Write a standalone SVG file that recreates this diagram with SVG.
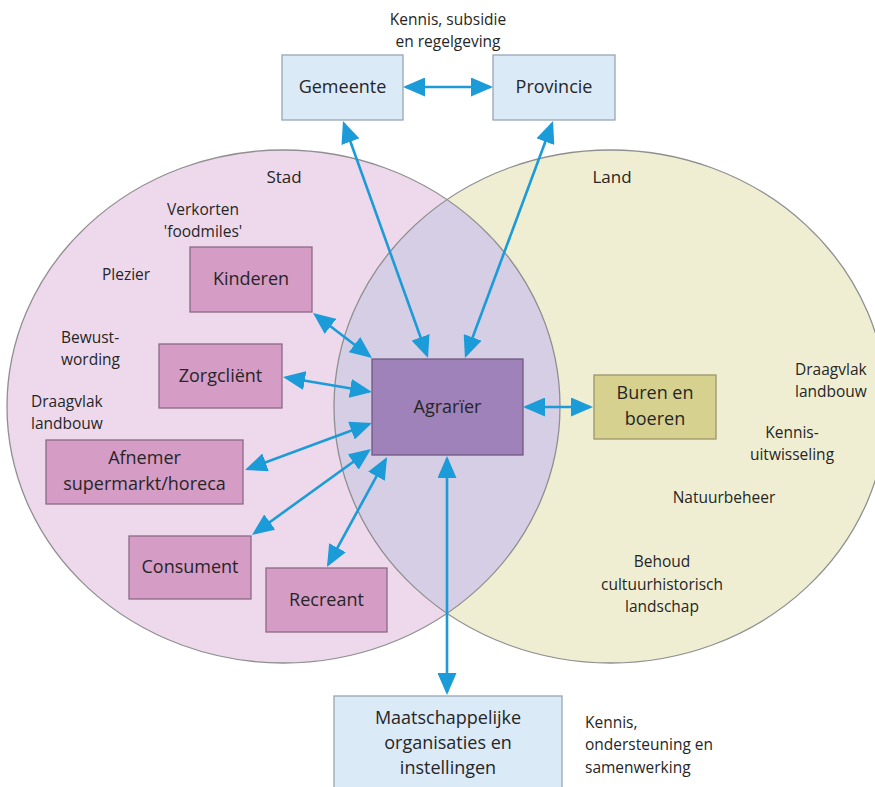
<svg xmlns="http://www.w3.org/2000/svg" width="875" height="787" viewBox="0 0 875 787">
<style>
  text { font-family: "Open Sans", "Noto Sans", "DejaVu Sans", sans-serif; fill: #262626; }
  .ann { font-size: 15.5px; }
  .lbl { font-size: 18px; text-anchor: middle; }
  .c { text-anchor: middle; }
  .title { font-size: 17px; }
  .outline { fill: none; stroke: #8f8f8f; stroke-width: 1.3; }
  .pink { fill: #d59cc6; stroke: #8c6a86; stroke-width: 1.3; }
  .blue { fill: #dbeaf7; stroke: #98a6b4; stroke-width: 1.3; }
  .agr { fill: #9e82b9; stroke: #6e5a82; stroke-width: 1.3; }
  .olive { fill: #d7d190; stroke: #9b9569; stroke-width: 1.3; }
  .conn line { stroke: #1b9bd8; stroke-width: 2.6; marker-start: url(#ah); marker-end: url(#ah); }
</style>
<defs>
  <marker id="ah" markerUnits="userSpaceOnUse" markerWidth="22" markerHeight="19" refX="19" refY="9.5" orient="auto-start-reverse" viewBox="0 0 22 19">
    <path d="M0,0 L22,9.5 L0,19 z" fill="#1b9bd8"/>
  </marker>
  <clipPath id="leftClip">
    <ellipse cx="283.5" cy="406.5" rx="276.5" ry="256.5"/>
  </clipPath>
</defs>
<rect width="875" height="787" fill="#ffffff"/>

<g id="sets">
  <ellipse cx="283.5" cy="406.5" rx="276.5" ry="256.5" fill="#eed9ec"/>
  <ellipse cx="610.5" cy="406.5" rx="276.5" ry="256.5" fill="#f0eed2"/>
  <ellipse cx="610.5" cy="406.5" rx="276.5" ry="256.5" fill="#d6cee5" clip-path="url(#leftClip)"/>
  <ellipse class="outline" cx="283.5" cy="406.5" rx="276.5" ry="256.5"/>
  <ellipse class="outline" cx="610.5" cy="406.5" rx="276.5" ry="256.5"/>
  <text class="title c" x="284" y="183">Stad</text>
  <text class="title c" x="612" y="183">Land</text>
</g>

<g id="annotations" class="ann">
  <text class="c" x="448" y="25">Kennis, subsidie</text>
  <text class="c" x="448" y="47">en regelgeving</text>
  <text class="c" x="203" y="215">Verkorten</text>
  <text class="c" x="203" y="237">'foodmiles'</text>
  <text x="102" y="280">Plezier</text>
  <text x="61" y="343">Bewust-</text>
  <text x="61" y="365">wording</text>
  <text x="31" y="407">Draagvlak</text>
  <text x="31" y="429">landbouw</text>
  <text x="795" y="375">Draagvlak</text>
  <text x="795" y="397">landbouw</text>
  <text class="c" x="792" y="438">Kennis-</text>
  <text class="c" x="792" y="460">uitwisseling</text>
  <text class="c" x="724" y="503">Natuurbeheer</text>
  <text class="c" x="662" y="567">Behoud</text>
  <text class="c" x="662" y="590">cultuurhistorisch</text>
  <text class="c" x="662" y="612">landschap</text>
  <text x="585" y="728">Kennis,</text>
  <text x="585" y="750">ondersteuning en</text>
  <text x="585" y="773">samenwerking</text>
</g>

<g id="gemeente">
  <rect class="blue" x="282" y="55" width="121" height="65"/>
  <text class="lbl" x="342.5" y="93">Gemeente</text>
</g>
<g id="provincie">
  <rect class="blue" x="493" y="55" width="122" height="65"/>
  <text class="lbl" x="554" y="93">Provincie</text>
</g>
<g id="kinderen">
  <rect class="pink" x="190" y="247" width="122" height="65"/>
  <text class="lbl" x="251" y="285">Kinderen</text>
</g>
<g id="zorgclient">
  <rect class="pink" x="159" y="344" width="123" height="64"/>
  <text class="lbl" x="220.5" y="382">Zorgcliënt</text>
</g>
<g id="afnemer">
  <rect class="pink" x="46" y="440" width="197" height="64"/>
  <text class="lbl" x="144.5" y="464">Afnemer</text>
  <text class="lbl" x="144.5" y="490">supermarkt/horeca</text>
</g>
<g id="consument">
  <rect class="pink" x="129" y="536" width="122" height="63"/>
  <text class="lbl" x="190" y="573">Consument</text>
</g>
<g id="recreant">
  <rect class="pink" x="266" y="568" width="121" height="64"/>
  <text class="lbl" x="326.5" y="606">Recreant</text>
</g>
<g id="agrarier">
  <rect class="agr" x="372" y="359" width="151" height="96"/>
  <text class="lbl" x="447.5" y="413">Agrarïer</text>
</g>
<g id="buren">
  <rect class="olive" x="594" y="375" width="122" height="64"/>
  <text class="lbl" x="655" y="399">Buren en</text>
  <text class="lbl" x="655" y="425">boeren</text>
</g>
<g id="maatschappelijk">
  <rect class="blue" x="334" y="696" width="228" height="96"/>
  <text class="lbl" x="448" y="724">Maatschappelijke</text>
  <text class="lbl" x="448" y="749">organisaties en</text>
  <text class="lbl" x="448" y="774">instellingen</text>
</g>

<g id="connectors" class="conn">
  <line x1="406" y1="87" x2="490" y2="87"/>
  <line x1="344" y1="123.8" x2="427" y2="355.2"/>
  <line x1="552" y1="123.8" x2="466" y2="355.2"/>
  <line x1="315.4" y1="314.8" x2="369.6" y2="356.2"/>
  <line x1="286" y1="377.5" x2="369" y2="391.5"/>
  <line x1="247.8" y1="469" x2="369.2" y2="424"/>
  <line x1="254.4" y1="533.2" x2="368.6" y2="450.8"/>
  <line x1="328.4" y1="564.4" x2="385.6" y2="459.6"/>
  <line x1="526" y1="407" x2="590" y2="407"/>
  <line x1="447" y1="459" x2="447" y2="692"/>
</g>
</svg>
